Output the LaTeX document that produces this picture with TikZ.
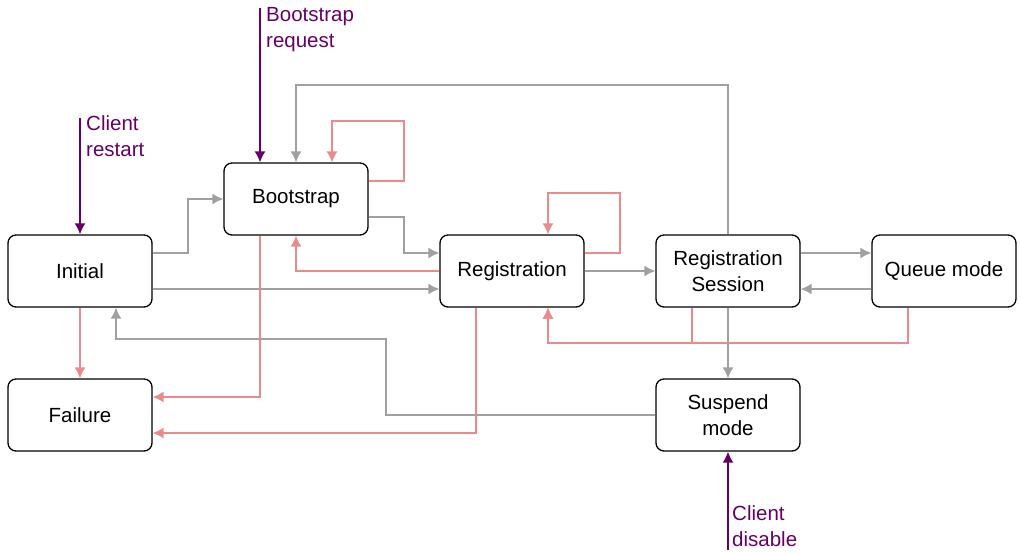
\documentclass[tikz,border=0pt]{standalone}
\usepackage{fontspec}
\setmainfont{Liberation Sans}
\usetikzlibrary{arrows.meta}
\begin{document}
\begin{tikzpicture}[x=1pt,y=-1pt,
  box/.style={draw,rounded corners=8pt,line width=1.3pt,minimum width=144pt,minimum height=72pt,align=center,font=\fontsize{20.5}{26}\selectfont,inner sep=0pt},
  g/.style={draw={rgb,255:red,160;green,160;blue,160},line width=1.5pt,-{Latex[length=11pt,width=11pt]}},
  r/.style={draw={rgb,255:red,234;green,138;blue,138},line width=1.5pt,-{Latex[length=11pt,width=11pt]}},
  p/.style={draw={rgb,255:red,102;green,0;blue,102},line width=1.5pt,-{Latex[length=11pt,width=11pt]}},
  lbl/.style={text={rgb,255:red,102;green,0;blue,102},align=left,anchor=north west,font=\fontsize{20.5}{26}\selectfont,inner sep=0pt}]
\useasboundingbox (0,0) rectangle (1020,552);
\node[box] (ini) at (80,271) {Initial};
\node[box] (fail) at (80,415) {Failure};
\node[box] (boot) at (296,199) {Bootstrap};
\node[box] (reg) at (512,271) {Registration};
\node[box] (rs) at (728,271) {Registration\\Session};
\node[box] (q) at (944,271) {Queue mode};
\node[box] (sus) at (728,415) {Suspend\\mode};
% grey
\draw[g] ([yshift=18pt]ini.east) -- (188,253) -- (188,199) -- (boot.west);
\draw[g] ([yshift=-18pt]ini.east) -- ([yshift=-18pt]reg.west);
\draw[g] ([yshift=-18pt]boot.east) -- (404,217) -- (404,253) -- ([yshift=18pt]reg.west);
\draw[g] (reg.east) -- (rs.west);
\draw[g] ([yshift=18pt]rs.east) -- ([yshift=18pt]q.west);
\draw[g] ([yshift=-18pt]q.west) -- ([yshift=-18pt]rs.east);
\draw[g] (rs.north) -- (728,85) -- (296,85) -- (boot.north);
\draw[g] (rs.south) -- (sus.north);
\draw[g] (sus.west) -- (386,415) -- (386,339) -- (116,339) -- ([xshift=36pt]ini.south);
% red
\draw[r] ([yshift=18pt]boot.east) -- (404,181) -- (404,121) -- (332,121) -- ([xshift=36pt]boot.north);
\draw[r] ([yshift=18pt]reg.east) -- (620,253) -- (620,193) -- (548,193) -- ([xshift=36pt]reg.north);
\draw[r] (reg.west) -- (296,271) -- (boot.south);
\draw[r] ([xshift=-36pt]boot.south) -- (260,397) -- ([yshift=18pt]fail.east);
\draw[r] (ini.south) -- (fail.north);
\draw[r] ([xshift=-36pt]reg.south) -- (476,433) -- ([yshift=-18pt]fail.east);
\draw[r] ([xshift=-36pt]rs.south) -- (692,343) -- (548,343) -- ([xshift=36pt]reg.south);
\draw[r] ([xshift=-36pt]q.south) -- (908,343) -- (548,343) -- ([xshift=36pt]reg.south);
% purple
\coordinate (c1) at (80,118);
\coordinate (c2) at (260,8);
\coordinate (c3) at (728,550);
\draw[p] (c1) -- (ini.north);
\draw[p] (c2) -- ([xshift=-36pt]boot.north);
\draw[p] (c3) -- (sus.south);
\node[lbl] (t1) at (86,115) {Client\\restart};
\node[lbl] (t2) at (266,7) {Bootstrap\\request};
\node[lbl] (t3) at (732,505) {Client\\disable};
\end{tikzpicture}
\end{document}
